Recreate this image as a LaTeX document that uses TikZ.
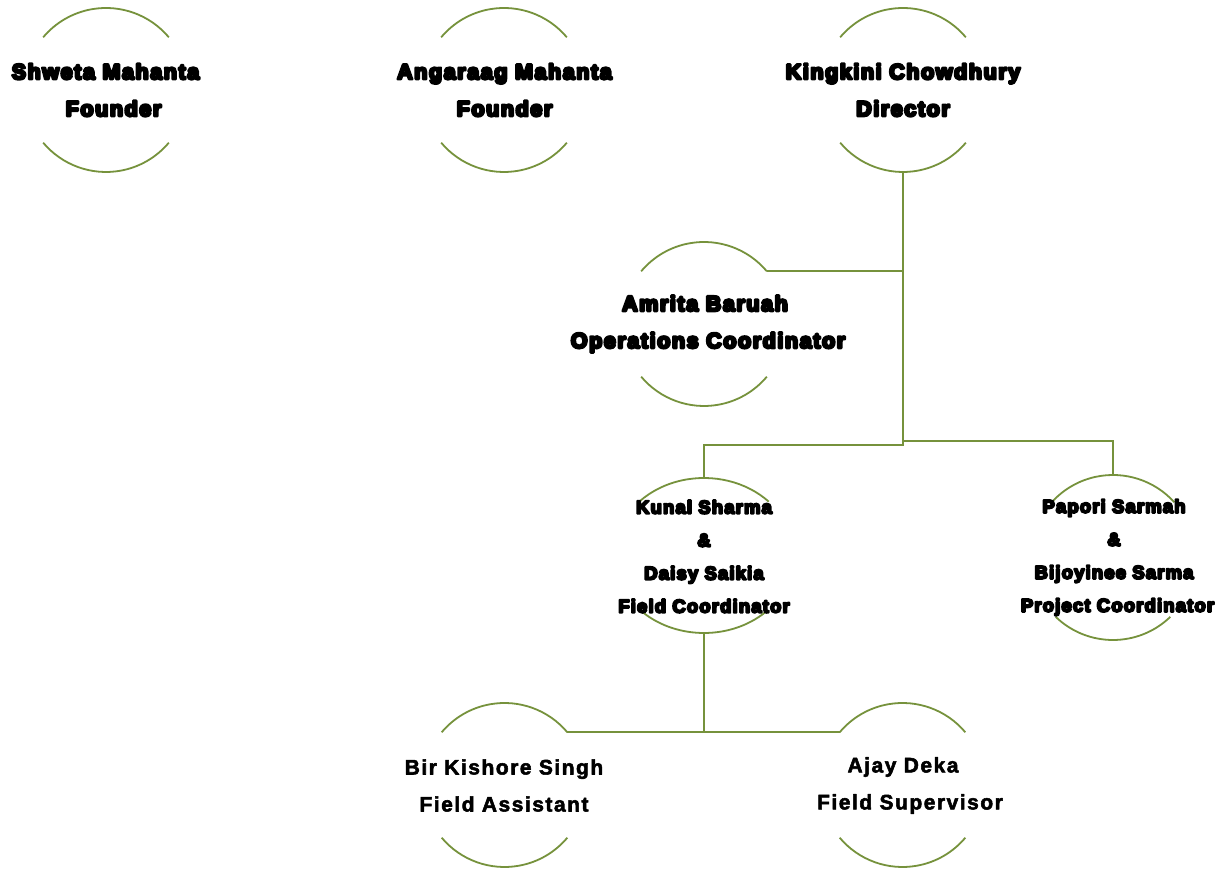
\documentclass[tikz,border=0pt]{standalone}
\usepackage{fontspec}
\setmainfont{Liberation Sans}
\newfontfamily\heavyfont{Liberation Sans Bold}[FakeBold=12, LetterSpace=7.4]
\newfontfamily\smallheavyfont{Liberation Sans Bold}[FakeBold=11, LetterSpace=6.2]
\newfontfamily\plainboldfont{Liberation Sans Bold}[FakeBold=2.5, LetterSpace=7.2]
\usetikzlibrary{shapes.geometric}
\definecolor{olive}{HTML}{76923C}
\tikzset{
  ring/.style={circle, minimum size=164pt, inner sep=0pt, outer sep=0pt, draw=none},
  oval/.style={ellipse, minimum width=180pt, minimum height=155pt, inner sep=0pt, outer sep=0pt, draw=none},
  arcline/.style={draw=olive, line width=1.8pt},
  conn/.style={draw=olive, line width=1.8pt},
  bigtext/.style={align=center, inner sep=0pt, line join=round, font=\heavyfont\fontsize{21.5}{37}\selectfont},
  smalltext/.style={align=center, inner sep=0pt, line join=round, font=\smallheavyfont\fontsize{18.5}{33}\selectfont},
  lowtext/.style={align=center, inner sep=0pt, line join=round, font=\plainboldfont\fontsize{21}{37}\selectfont},
}
\begin{document}
\begin{tikzpicture}[x=1pt, y=1pt]
\useasboundingbox (0,0) rectangle (1228,869);
\fill[white] (0,0) rectangle (1228,869);

% ring nodes
\node[ring] (shweta) at (106,779) {};
\node[ring] (angaraag) at (504,779) {};
\node[ring] (kingkini) at (903,779) {};
\node[ring] (amrita) at (704,545) {};
\node[oval] (kunal) at (704,313.5) {};
\node[ring, minimum size=165pt] (papori) at (1113,311.5) {};
\node[ring] (bir) at (504.5,84) {};
\node[ring] (ajay) at (902.5,84) {};

% arcs
\foreach \p in {shweta,angaraag,kingkini,amrita,bir,ajay}{
  \draw[arcline] (\p.40) arc[start angle=40, end angle=140, radius=82pt];
  \draw[arcline] (\p.220) arc[start angle=220, end angle=320, radius=82pt];
}
\draw[arcline] (kunal.center) ++(44:90pt and 77.5pt) arc[start angle=44, end angle=136, x radius=90pt, y radius=77.5pt];
\draw[arcline] (kunal.center) ++(227:90pt and 77.5pt) arc[start angle=227, end angle=313, x radius=90pt, y radius=77.5pt];
\draw[arcline] (papori.center) ++(42:82.5pt) arc[start angle=42, end angle=138, radius=82.5pt];
\draw[arcline] (papori.center) ++(226:82.5pt) arc[start angle=226, end angle=314, radius=82.5pt];

% connectors
\coordinate (jl) at (903,424);
\coordinate (jr) at (903,428);
\draw[conn] (kingkini.south) -- (jl) -| (kunal.north);
\draw[conn] (jr) -| (papori.north);
\draw[conn] (amrita.40) -- (amrita.40 -| kingkini.south);
\draw[conn] (kunal.south) -- (kunal.south |- bir.40);
\draw[conn] (bir.40) -- (ajay.140);

% texts
\node[bigtext] (shwetat) at (105.5,779) {Shweta Mahanta\\\hspace*{16pt}Founder};
\node[bigtext] (angaraagt) at (504.5,779) {Angaraag Mahanta\\Founder};
\node[bigtext] (kingkinit) at (903,779) {Kingkini Chowdhury\\Director};
\node[bigtext] (amritat) at (705,545) {Amrita Baruah\\\hspace*{6pt}Operations Coordinator};
\node[smalltext] (kunalt) at (704,312.5) {Kunal Sharma\\\&\\Daisy Saikia\\Field Coordinator};
\node[smalltext] (paporit) at (1114,311.5) {Papori Sarmah\\\&\\Bijoyinee Sarma\\\hspace*{7pt}Project Coordinator};
\node[lowtext] (birt) at (504,83.5) {Bir Kishore Singh\\Field Assistant};
\node[lowtext] (ajayt) at (903,83.5) {Ajay Deka\\\hspace*{14pt}Field Supervisor};
\end{tikzpicture}
\end{document}
